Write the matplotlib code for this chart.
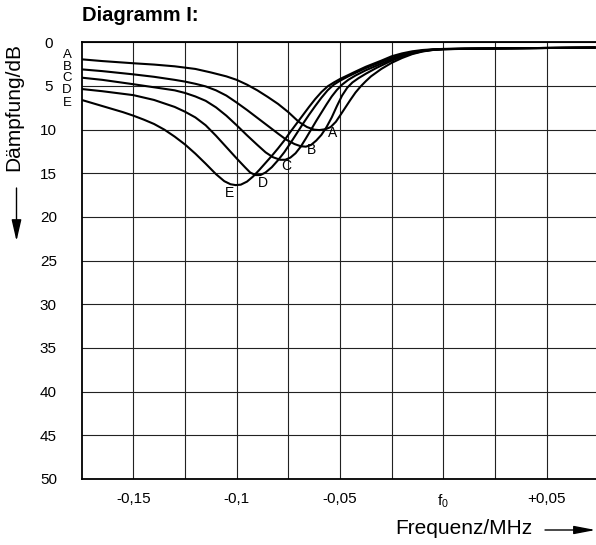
import matplotlib
matplotlib.use("Agg")
import matplotlib.pyplot as plt

plt.rcParams['font.family'] = ['Liberation Sans', 'DejaVu Sans']
plt.rcParams['mathtext.fontset'] = 'custom'
plt.rcParams['mathtext.rm'] = 'Liberation Sans'
plt.rcParams['mathtext.it'] = 'Liberation Sans:italic'

# ---- data (frequency offset in MHz, attenuation in dB) ----
curve_names = ['A', 'B', 'C', 'D', 'E']

freq_A = [-0.175, -0.165, -0.15, -0.14, -0.13, -0.125, -0.12, -0.1125, -0.105, -0.1,
          -0.095, -0.09, -0.085, -0.08, -0.075, -0.07, -0.066, -0.0625, -0.06, -0.057,
          -0.0545, -0.052, -0.05, -0.0475, -0.045, -0.0425, -0.04, -0.0375, -0.035, -0.03,
          -0.025, -0.02, -0.015, -0.01, -0.005, 0.0, 0.01, 0.025, 0.05, 0.0735]
damp_A = [1.95, 2.15, 2.4, 2.55, 2.75, 2.9, 3.05, 3.45, 3.9, 4.3,
          4.85, 5.5, 6.25, 7.05, 8.0, 9.1, 9.7, 10.0, 10.05, 9.95,
          9.7, 9.1, 8.4, 7.5, 6.6, 5.75, 5.05, 4.45, 3.9, 3.05,
          2.35, 1.8, 1.35, 1.05, 0.88, 0.8, 0.75, 0.7, 0.65, 0.6]

freq_B = [-0.175, -0.165, -0.15, -0.14, -0.13, -0.125, -0.12, -0.115, -0.11, -0.105,
          -0.1, -0.095, -0.09, -0.085, -0.08, -0.076, -0.072, -0.069, -0.0665, -0.064,
          -0.0615, -0.059, -0.0565, -0.054, -0.0515, -0.049, -0.0465, -0.044, -0.041, -0.0375,
          -0.0325, -0.025, -0.02, -0.015, -0.01, -0.005, 0.0, 0.01, 0.025, 0.05, 0.0735]
damp_B = [3.1, 3.3, 3.67, 3.95, 4.3, 4.5, 4.75, 5.05, 5.5, 6.1,
          6.9, 7.75, 8.65, 9.55, 10.45, 11.15, 11.65, 11.9, 11.95, 11.75,
          11.25, 10.6, 9.7, 8.6, 7.3, 6.1, 5.2, 4.6, 4.1, 3.6,
          2.95, 2.1, 1.65, 1.28, 1.02, 0.86, 0.79, 0.74, 0.7, 0.65, 0.6]

freq_C = [-0.175, -0.165, -0.15, -0.14, -0.13, -0.125, -0.12, -0.115, -0.11, -0.105,
          -0.1, -0.095, -0.09, -0.086, -0.0825, -0.079, -0.0765, -0.074, -0.0715, -0.069,
          -0.0665, -0.064, -0.0615, -0.059, -0.0565, -0.054, -0.0515, -0.049, -0.046, -0.0425,
          -0.0375, -0.03, -0.025, -0.02, -0.015, -0.01, -0.005, 0.0, 0.01, 0.025, 0.05, 0.0735]
damp_C = [4.05, 4.3, 4.8, 5.15, 5.5, 5.8, 6.2, 6.7, 7.45, 8.4,
          9.5, 10.65, 11.75, 12.6, 13.15, 13.45, 13.45, 13.2, 12.7, 11.95,
          11.0, 10.0, 9.0, 8.05, 7.1, 6.2, 5.45, 4.85, 4.3, 3.8,
          3.2, 2.45, 1.95, 1.55, 1.22, 0.98, 0.84, 0.78, 0.74, 0.7, 0.65, 0.6]

freq_D = [-0.175, -0.165, -0.15, -0.14, -0.13, -0.125, -0.12, -0.115, -0.11, -0.105,
          -0.1, -0.096, -0.0935, -0.091, -0.0885, -0.086, -0.083, -0.08, -0.077, -0.074,
          -0.071, -0.068, -0.065, -0.062, -0.059, -0.056, -0.053, -0.05, -0.046, -0.0425,
          -0.0375, -0.03, -0.025, -0.02, -0.015, -0.01, -0.005, 0.0, 0.01, 0.025, 0.05, 0.0735]
damp_D = [5.35, 5.6, 6.05, 6.6, 7.4, 7.95, 8.6, 9.5, 10.7, 12.0,
          13.3, 14.3, 14.9, 15.2, 15.2, 14.9, 14.3, 13.5, 12.6, 11.55,
          10.45, 9.35, 8.3, 7.3, 6.35, 5.5, 4.85, 4.4, 3.9, 3.5,
          2.95, 2.25, 1.78, 1.42, 1.14, 0.94, 0.83, 0.77, 0.74, 0.7, 0.65, 0.6]

freq_E = [-0.175, -0.165, -0.155, -0.15, -0.145, -0.14, -0.135, -0.13, -0.125, -0.12,
          -0.115, -0.11, -0.106, -0.103, -0.1005, -0.098, -0.095, -0.092, -0.089, -0.086,
          -0.083, -0.08, -0.077, -0.074, -0.071, -0.068, -0.065, -0.062, -0.059, -0.056,
          -0.053, -0.05, -0.046, -0.0425, -0.0375, -0.03, -0.025, -0.02, -0.015, -0.01,
          -0.005, 0.0, 0.01, 0.025, 0.05, 0.0735]
damp_E = [6.6, 7.3, 8.0, 8.4, 8.85, 9.35, 10.0, 10.8, 11.7, 12.75,
          13.9, 15.1, 15.9, 16.25, 16.35, 16.3, 15.95, 15.35, 14.6, 13.8,
          13.0, 12.15, 11.25, 10.25, 9.3, 8.35, 7.4, 6.5, 5.7, 5.05,
          4.6, 4.2, 3.75, 3.35, 2.8, 2.1, 1.6, 1.27, 1.03, 0.88,
          0.8, 0.76, 0.73, 0.7, 0.65, 0.6]

x_ticks = [-0.15, -0.125, -0.1, -0.075, -0.05, -0.025, 0.0, 0.025, 0.05]
x_tick_labels = ['-0,15', '', '-0,1', '', '-0,05', '', r'f$_{0}$', '', '+0,05']
y_ticks = [0, 5, 10, 15, 20, 25, 30, 35, 40, 45, 50]
y_tick_labels = [str(v) for v in y_ticks]

curves = {
    'A': (freq_A, damp_A),
    'B': (freq_B, damp_B),
    'C': (freq_C, damp_C),
    'D': (freq_D, damp_D),
    'E': (freq_E, damp_E),
}

# ---- figure ----
W, H = 596, 545
fig = plt.figure(figsize=(W / 100, H / 100), dpi=100)
ax_left, ax_right, ax_top, ax_bottom = 81.7, 598.3, 42.3, 479.0
ax = fig.add_axes([ax_left / W, 1 - ax_bottom / H,
                   (ax_right - ax_left) / W, (ax_bottom - ax_top) / H])

ax.set_xlim(-0.175, 0.075)
ax.set_ylim(50, 0)

ax.set_xticks(x_ticks)
ax.set_xticklabels(x_tick_labels, fontsize=11)
ax.set_yticks(y_ticks)
ax.set_yticklabels(y_tick_labels, fontsize=11)
ax.tick_params(axis='both', length=0)
ax.tick_params(axis='x', pad=9.5)
ax.tick_params(axis='y', pad=24)
for lbl in ax.get_yticklabels():
    lbl.set_ha('center')

ax.grid(True, color='#222222', linewidth=0.8)
ax.set_axisbelow(True)
for side in ['left', 'top', 'bottom']:
    ax.spines[side].set_linewidth(1.3)
    ax.spines[side].set_color('black')
ax.spines['right'].set_visible(False)

for name in curve_names:
    fx, fy = curves[name]
    ax.plot(fx, fy, color='black', linewidth=1.5, solid_capstyle='round',
            solid_joinstyle='round', antialiased=True, zorder=3)

# letters at left edge
left_label_y = {'A': 1.45, 'B': 2.8, 'C': 4.1, 'D': 5.45, 'E': 6.95}
for name in curve_names:
    ax.text(-0.1821, left_label_y[name], name, fontsize=9.5, ha='center', va='center',
            clip_on=False)

# letters at minima
min_label_pos = {'A': (-0.0535, 10.4), 'B': (-0.0639, 12.3), 'C': (-0.0758, 14.15),
                 'D': (-0.0871, 16.06), 'E': (-0.1034, 17.26)}
for name in curve_names:
    px, py = min_label_pos[name]
    ax.text(px, py, name, fontsize=10, ha='center', va='center', zorder=4)

# title
fig.text(82 / W, 1 - 15.5 / H, 'Diagramm I:', fontsize=14.5, fontweight='bold',
         ha='left', va='center')

# y label + arrow
fig.text(14 / W, 1 - 107 / H, 'Dämpfung/dB', fontsize=15, rotation=90,
         ha='center', va='center')
fig.add_artist(matplotlib.patches.FancyArrowPatch(
    (16.5 / W, 1 - 188 / H), (16.5 / W, 1 - 241 / H), transform=fig.transFigure,
    arrowstyle='-|>,head_length=1.3,head_width=0.3', mutation_scale=10,
    color='black', linewidth=1.0, shrinkA=0, shrinkB=0))

# x label + arrow
fig.text(464 / W, 1 - 529 / H, 'Frequenz/MHz', fontsize=15, ha='center', va='center')
fig.add_artist(matplotlib.patches.FancyArrowPatch(
    (545 / W, 1 - 530 / H), (595.5 / W, 1 - 530 / H), transform=fig.transFigure,
    arrowstyle='-|>,head_length=1.3,head_width=0.25', mutation_scale=10,
    color='black', linewidth=1.0, shrinkA=0, shrinkB=0))

fig.savefig('out.png', dpi=100)
